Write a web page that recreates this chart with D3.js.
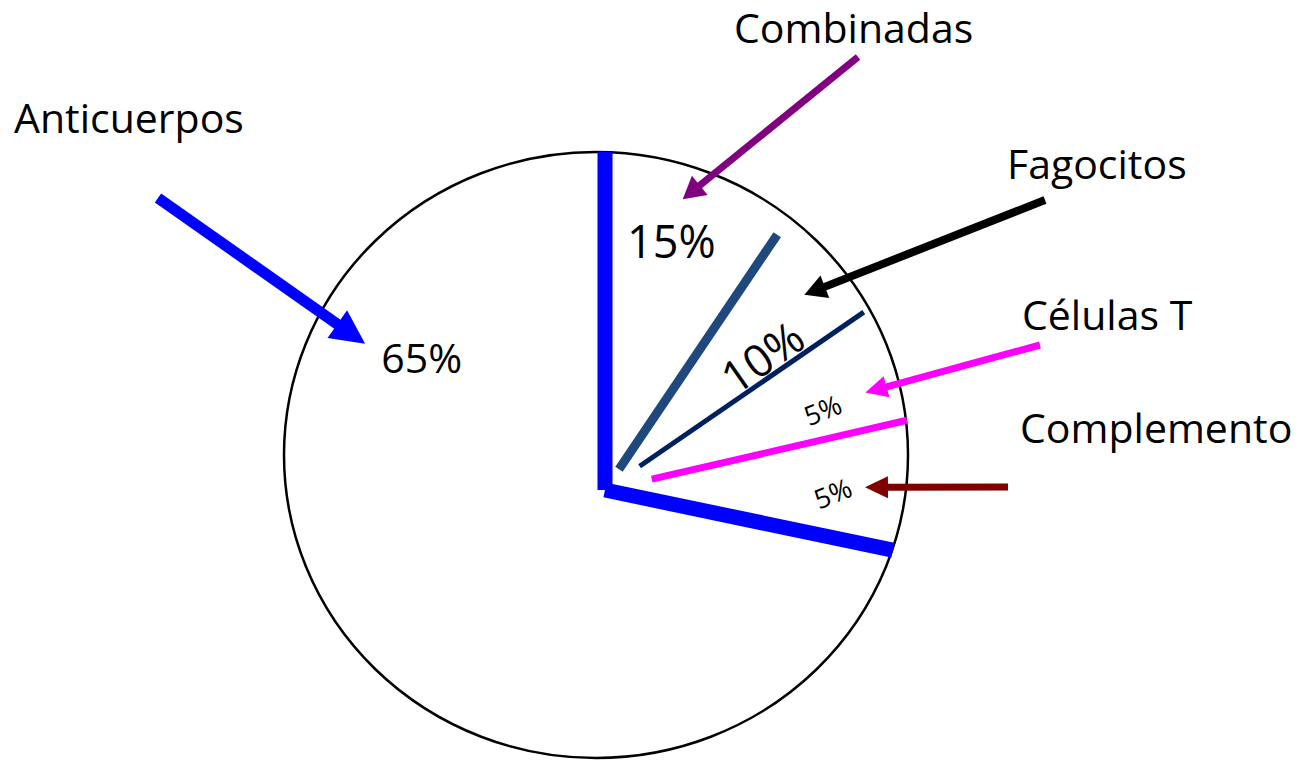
<html>
<head>
<meta charset="utf-8">
<title>Pie sketch</title>
<style>
  body { margin: 0; background: #fff; }
  text { font-family: "Open Sans", sans-serif; fill: #000; }
</style>
</head>
<body>
<svg id="container" width="1303" height="760"></svg>
<script src="https://d3js.org/d3.v7.min.js"></script>
<script>
// data, clockwise from 12 o'clock
const categories = ["Combinadas", "Fagocitos", "Células T", "Complemento", "Anticuerpos"]
const values = [15, 10, 5, 5, 65]
const valueLabels = ["15%", "10%", "5%", "5%", "65%"]

let svg = d3.select("#container")

let cx = 605, cy = 490          // where the dividers meet
let rimX = 596, rimY = 455      // the outline is a little off-centre and not quite round

let data = categories.map((c, i) => ({ category: c, value: values[i], label: valueLabels[i] }))

let pie = d3.pie()
    .sort(null)
    .value(d => d.value)
let slices = pie(data)

// the original sketch was drawn by hand, so the sector edges are squeezed
// a bit; map the true cumulative angles onto the drawn ones
let boundaries = slices.map(s => s.startAngle).concat([2 * Math.PI])
let deg = Math.PI / 180
let angle = d3.scaleLinear()
    .domain(boundaries)
    .range([0, 34, 55.5, 77, 101.8, 360].map(a => a * deg))

function polar(a, r) {
    return [cx + r * Math.sin(a), cy - r * Math.cos(a)]
}
function within(s, t) {
    return angle(s.startAngle + t * (s.endAngle - s.startAngle))
}

// outline
svg.append("ellipse")
    .attr("cx", rimX)
    .attr("cy", rimY)
    .attr("rx", 312)
    .attr("ry", 303)
    .attr("fill", "none")
    .attr("stroke", "#000")
    .attr("stroke-width", 2.5)

// divider drawn on the start edge of every slice
let divider = {
    "Combinadas":  { color: "#0000FF", width: 15, r0: 0,  r1: 338 },
    "Fagocitos":   { color: "#1F497D", width: 9,  r0: 25, r1: 308 },
    "Células T":   { color: "#002060", width: 5,  r0: 42, r1: 314 },
    "Complemento": { color: "#FF00FF", width: 7,  r0: 48, r1: 310 },
    "Anticuerpos": { color: "#0000FF", width: 15, r0: 0,  r1: 294 }
}

svg.selectAll(".divider")
    .data(slices)
    .enter()
    .append("line")
    .attr("class", "divider")
    .each(function (d) {
        let st = divider[d.data.category]
        let a = angle(d.startAngle)
        let p0 = polar(a, st.r0), p1 = polar(a, st.r1)
        d3.select(this)
            .attr("x1", p0[0]).attr("y1", p0[1])
            .attr("x2", p1[0]).attr("y2", p1[1])
            .attr("stroke", st.color)
            .attr("stroke-width", st.width)
    })

// percentage labels inside the slices
let inner = {
    "Combinadas":  { t: 0.44, r: 257, size: 45, rot: 0 },
    "Fagocitos":   { t: 0.74, r: 206, size: 45, rot: -35 },
    "Células T":   { t: 0.67, r: 232, size: 27, rot: -22 },
    "Complemento": { t: 0.56, r: 228, size: 27, rot: -22 },
    "Anticuerpos": { t: 0.79, r: 226, size: 41, rot: 0 }
}

svg.selectAll(".pct")
    .data(slices)
    .enter()
    .append("text")
    .attr("class", "pct")
    .attr("text-anchor", "middle")
    .attr("dy", "0.36em")
    .attr("font-size", d => inner[d.data.category].size)
    .attr("transform", d => {
        let o = inner[d.data.category]
        let p = polar(within(d, o.t), o.r)
        return "translate(" + p[0] + "," + p[1] + ") rotate(" + o.rot + ")"
    })
    .text(d => d.data.label)

// category names with arrows pointing into their slice
let notes = {
    "Combinadas":  { x: 734,  y: 43,  tail: [858, 57],   t: 0.44, r: 301, color: "#800080", w: 7,  hl: 22, hw: 25 },
    "Fagocitos":   { x: 1007, y: 179, tail: [1045, 200], t: 0.54, r: 279, color: "#000000", w: 8,  hl: 22, hw: 24 },
    "Células T":   { x: 1022, y: 330, tail: [1040, 345], t: 0.65, r: 278, color: "#FF00FF", w: 7,  hl: 22, hw: 22 },
    "Complemento": { x: 1020, y: 443, tail: [1008, 487], t: 0.50, r: 260, color: "#800000", w: 7,  hl: 23, hw: 22 },
    "Anticuerpos": { x: 14,   y: 133, tail: [158, 198],  t: 0.773, r: 281, color: "#0000FF", w: 11, hl: 34, hw: 34 }
}

svg.selectAll(".name")
    .data(slices)
    .enter()
    .append("text")
    .attr("class", "name")
    .attr("x", d => notes[d.data.category].x)
    .attr("y", d => notes[d.data.category].y)
    .attr("font-size", 41)
    .text(d => d.data.category)

let arrows = svg.selectAll(".arrow")
    .data(slices)
    .enter()
    .append("g")
    .attr("class", "arrow")

arrows.each(function (d) {
    let n = notes[d.data.category]
    let tip = polar(within(d, n.t), n.r)
    let tail = n.tail
    let dx = tip[0] - tail[0], dy = tip[1] - tail[1]
    let len = Math.hypot(dx, dy)
    let ux = dx / len, uy = dy / len
    let bx = tip[0] - ux * n.hl, by = tip[1] - uy * n.hl
    let g = d3.select(this)
    g.append("line")
        .attr("x1", tail[0]).attr("y1", tail[1])
        .attr("x2", bx + ux).attr("y2", by + uy)
        .attr("stroke", n.color)
        .attr("stroke-width", n.w)
    g.append("path")
        .attr("d", d3.line()([
            tip,
            [bx - uy * n.hw / 2, by + ux * n.hw / 2],
            [bx + uy * n.hw / 2, by - ux * n.hw / 2]
        ]) + "Z")
        .attr("fill", n.color)
})
</script>
</body>
</html>
